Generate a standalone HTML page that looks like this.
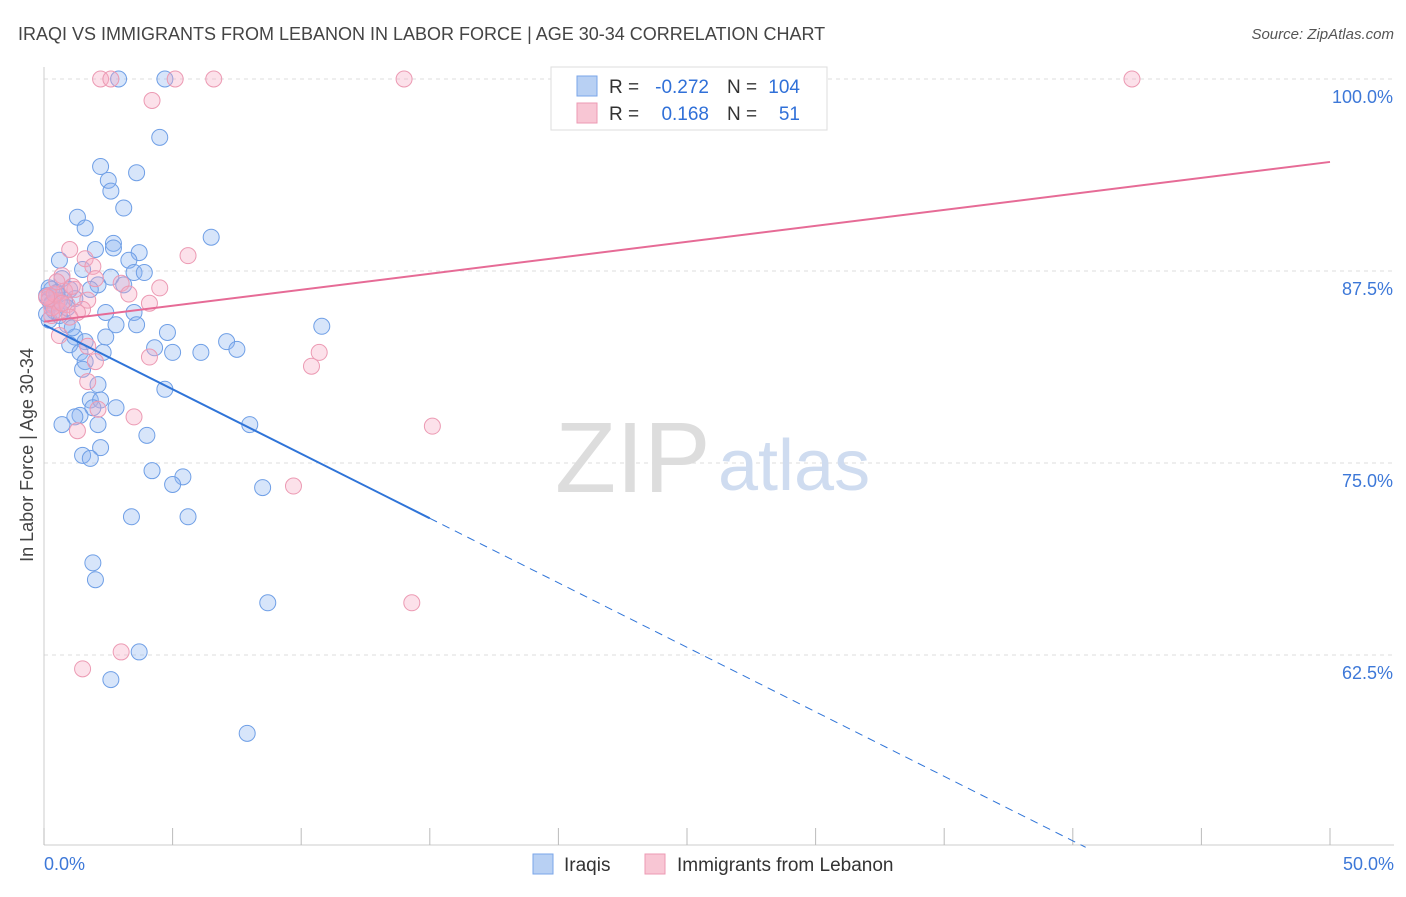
<!DOCTYPE html>
<html><head><meta charset="utf-8"><style>
body{margin:0;background:#fff;font-family:"Liberation Sans",sans-serif;}
svg text{font-family:"Liberation Sans",sans-serif;}
</style></head><body>
<svg id="chart" width="1406" height="892">
<text x="18" y="40" font-size="18" fill="#444">IRAQI VS IMMIGRANTS FROM LEBANON IN LABOR FORCE | AGE 30-34 CORRELATION CHART</text>
<text x="1394" y="39" font-size="15" fill="#555" font-style="italic" text-anchor="end">Source: ZipAtlas.com</text>
<text x="33" y="455" font-size="18" fill="#444" text-anchor="middle" transform="rotate(-90 33 455)">In Labor Force | Age 30-34</text>
<g id="grid"></g><g id="axes"></g>
<text x="555" y="492" font-size="100" fill="#ddd" font-family="Liberation Serif">ZIP</text>
<text x="718" y="490" font-size="72" fill="#cfdcf0">atlas</text>
<g id="marks"></g>
<g>
<rect x="551" y="67" width="276" height="63" fill="#fff" stroke="#ddd"/>
<rect x="577" y="76" width="20" height="20" fill="#b8d0f3" stroke="#7aa6e8"/>
<rect x="577" y="103" width="20" height="20" fill="#f8c6d4" stroke="#ec9ab3"/>
<text x="609" y="93" font-size="19" fill="#333">R =</text>
<text x="709" y="93" font-size="19" fill="#3070d8" text-anchor="end">-0.272</text>
<text x="727" y="93" font-size="19" fill="#333">N =</text>
<text x="800" y="93" font-size="19" fill="#3070d8" text-anchor="end">104</text>
<text x="609" y="120" font-size="19" fill="#333">R =</text>
<text x="709" y="120" font-size="19" fill="#3070d8" text-anchor="end">0.168</text>
<text x="727" y="120" font-size="19" fill="#333">N =</text>
<text x="800" y="120" font-size="19" fill="#3070d8" text-anchor="end">51</text>
</g>
<g>
<rect x="533" y="854" width="20" height="20" fill="#b8d0f3" stroke="#7aa6e8"/>
<text x="564" y="871" font-size="19" fill="#333">Iraqis</text>
<rect x="645" y="854" width="20" height="20" fill="#f8c6d4" stroke="#ec9ab3"/>
<text x="677" y="871" font-size="19" fill="#333">Immigrants from Lebanon</text>
</g>
</svg>
<script>
const xTicks=[0,5,10,15,20,25,30,35,40,45,50];
const yTicks=[62.5,75,87.5,100];
const iraqiX=[2.9,4.7,4.5,2.2,3.6,2.5,2.6,3.1,1.3,1.6,6.5,2.7,2.0,3.7,2.7,0.6,3.3,3.5,3.9,1.5,0.7,2.6,2.1,3.1,0.3,1.0,1.8,0.2,0.6,1.2,2.4,3.5,0.2,0.9,2.8,3.6,4.8,10.8,1.2,2.4,1.0,1.6,4.3,7.1,7.5,1.4,2.3,5.0,6.1,1.6,1.5,2.1,4.7,1.8,2.2,2.8,1.9,1.4,1.2,0.7,2.1,8.0,4.0,2.2,1.5,1.8,4.2,5.4,5.0,8.5,3.4,5.6,1.9,2.0,8.7,3.7,2.6,7.9,0.1,0.3,0.5,0.4,0.8,0.2,0.6,0.9,0.3,0.1,0.5,1.1];
const iraqiY=[100,100,96.2,94.3,93.9,93.4,92.7,91.6,91.0,90.3,89.7,89.3,88.9,88.7,89.0,88.2,88.2,87.4,87.4,87.6,87.0,87.1,86.6,86.6,86.3,86.3,86.3,85.6,85.6,85.7,84.8,84.8,84.3,84.0,84.0,84.0,83.5,83.9,83.2,83.2,82.7,82.9,82.5,82.9,82.4,82.2,82.2,82.2,82.2,81.6,81.1,80.1,79.8,79.1,79.1,78.6,78.6,78.1,78.0,77.5,77.5,77.5,76.8,76.0,75.5,75.3,74.5,74.1,73.6,73.4,71.5,71.5,68.5,67.4,65.9,62.7,60.9,57.4,85.9,85.3,86.0,84.9,85.6,86.4,84.6,85.1,85.4,84.7,86.1,83.8];
const lebX=[2.2,2.6,5.1,6.6,14.0,42.3,4.2,1.0,5.6,1.6,1.9,0.7,2.0,3.0,4.5,1.2,3.3,1.7,4.1,0.4,1.5,0.2,0.3,0.6,1.7,10.7,10.4,4.1,2.0,1.7,2.1,3.5,1.3,15.1,9.7,14.3,3.0,1.5,0.5,0.8,0.3,1.1,0.6,0.2,0.9,0.4,1.3,0.7,0.1,1.0,0.5];
const lebY=[100,100,100,100,100,100,98.6,88.9,88.5,88.3,87.8,87.2,87.0,86.7,86.4,86.3,86.0,85.6,85.4,85.2,85.0,85.9,84.6,83.3,82.6,82.2,81.3,81.9,81.6,80.3,78.5,78.0,77.1,77.4,73.5,65.9,62.7,61.6,85.5,86.2,85.1,86.5,84.9,85.7,85.3,86.0,84.8,85.4,85.8,84.5,86.8];
const iraqiTrend=[84.0,71.4];const iraqiTrendX=[0,15];const iraqiDashEnd=40.5;
const lebTrend=[84.2,94.6];
const NS="http://www.w3.org/2000/svg";
const X=v=>44+v*25.72, Y=v=>79+(100-v)*15.36;
function el(t,a,p){const e=document.createElementNS(NS,t);for(const k in a)e.setAttribute(k,a[k]);document.getElementById(p).appendChild(e);return e;}
yTicks.forEach(t=>{
 const l=el('line',{x1:44,x2:1394,y1:Y(t),y2:Y(t),stroke:'#ddd','stroke-dasharray':'4,4'},'grid');
 
 
 const tx=el('text',{x:1393,y:Y(t)+24,'font-size':18,fill:'#3d78d8','text-anchor':'end'},'axes');
 tx.textContent=t.toFixed(1)+'%';
 
 
});
const topGrid=el('line',{x1:44,x2:1394,y1:79,y2:79,stroke:'#ddd','stroke-dasharray':'4,4'},'grid');
el('line',{x1:44,x2:44,y1:67,y2:845,stroke:'#ccc'},'axes');
el('line',{x1:44,x2:1394,y1:845,y2:845,stroke:'#ccc'},'axes');
xTicks.forEach(t=>{const l=el('line',{x1:X(t),x2:X(t),y1:828,y2:845,stroke:'#bbb'},'axes');
 
 });
[[0,'0.0%','start',44],[50,'50.0%','end',1394]].forEach(a=>{const tx=el('text',{x:a[3],y:870,'font-size':18,fill:'#3d78d8','text-anchor':a[2]},'axes');tx.textContent=a[1];
 
 });
iraqiX.forEach((x,i)=>{const c=el('circle',{cx:X(x),cy:Y(iraqiY[i]),r:8,fill:'rgba(140,180,240,0.35)',stroke:'#6f9fe6','stroke-width':1},'marks');
 
 });
lebX.forEach((x,i)=>{const c=el('circle',{cx:X(x),cy:Y(lebY[i]),r:8,fill:'rgba(245,170,195,0.35)',stroke:'#ec9ab3','stroke-width':1},'marks');
 
 });
const slope=(iraqiTrend[1]-iraqiTrend[0])/(iraqiTrendX[1]-iraqiTrendX[0]);
const bl=el('line',{x1:X(0),y1:Y(iraqiTrend[0]),x2:X(15),y2:Y(iraqiTrend[1]),stroke:'#2f74d8','stroke-width':2},'marks');


const bd=el('line',{x1:X(15),y1:Y(iraqiTrend[1]),x2:X(iraqiDashEnd),y2:Y(iraqiTrend[0]+slope*iraqiDashEnd),stroke:'#2f74d8','stroke-width':1,'stroke-dasharray':'8,6'},'marks');


const pl=el('line',{x1:X(0),y1:Y(lebTrend[0]),x2:X(50),y2:Y(lebTrend[1]),stroke:'#e66b96','stroke-width':2},'marks');


</script>
</body></html>
